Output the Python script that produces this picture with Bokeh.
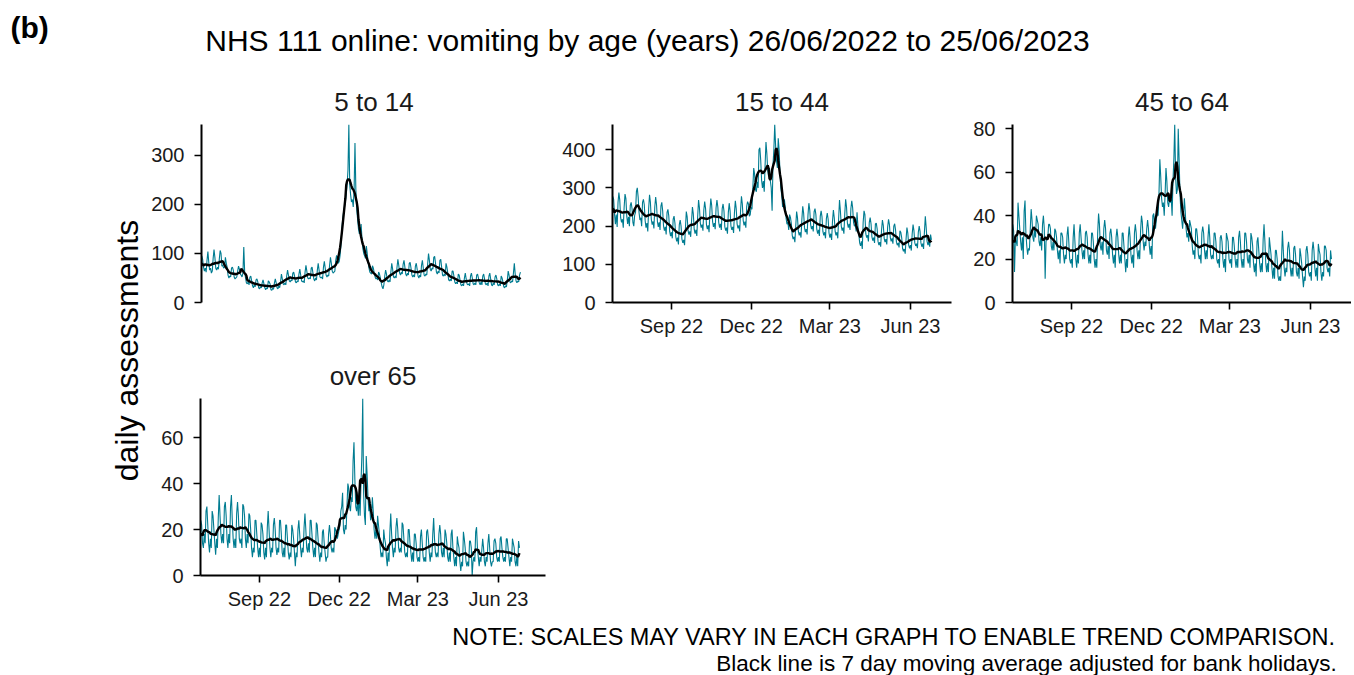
import math
import pandas as pd
from bokeh.plotting import figure
from bokeh.layouts import column, row
from bokeh.models import Range1d, FixedTicker, DatetimeTickFormatter, ColumnDataSource
from bokeh.core.properties import value
from bokeh.embed import file_html
from bokeh.resources import INLINE

# ---------------- data (daily assessments, 26/06/2022 .. 25/06/2023) ----------------
START_DATE = "2022-06-26"
PANEL_TITLES = ["5 to 14", "15 to 44", "45 to 64", "over 65"]
Y_TICKS = [[0, 100, 200, 300], [0, 100, 200, 300, 400], [0, 20, 40, 60, 80], [0, 20, 40, 60]]
X_TICK_DATES = ["2022-09-01", "2022-12-01", "2023-03-01", "2023-06-01"]

age_5_14 = [
    95, 88, 72, 64, 70, 62, 86,
    104, 82, 66, 70, 60, 64, 90,
    108, 92, 70, 66, 72, 68, 88,
    106, 100, 74, 76, 70, 72, 92,
    80, 72, 56, 50, 54, 52, 70,
    72, 66, 52, 48, 50, 52, 64,
    74, 68, 58, 56, 52, 60, 113,
    62, 50, 40, 38, 42, 36, 52,
    54, 44, 34, 30, 36, 32, 46,
    48, 42, 30, 28, 32, 30, 40,
    46, 38, 30, 26, 30, 28, 44,
    42, 38, 26, 25, 29, 27, 40,
    48, 40, 30, 28, 34, 30, 42,
    58, 48, 38, 36, 40, 36, 54,
    66, 56, 44, 42, 46, 44, 60,
    62, 54, 42, 40, 44, 42, 58,
    68, 56, 44, 42, 44, 40, 62,
    76, 64, 50, 48, 50, 48, 70,
    72, 60, 48, 44, 50, 46, 66,
    80, 66, 52, 50, 52, 48, 72,
    84, 70, 56, 52, 56, 54, 76,
    92, 80, 64, 60, 62, 64, 86,
    96, 88, 80, 84, 96, 118, 150,
    170, 185, 195, 205, 220, 240, 270,
    363, 240, 220, 205, 210, 195, 230,
    325, 230, 190, 170, 150, 140, 145,
    160, 130, 110, 100, 95, 90, 115,
    100, 82, 70, 62, 60, 58, 75,
    70, 60, 52, 48, 50, 46, 62,
    58, 50, 40, 32, 28, 36, 54,
    66, 58, 44, 42, 46, 42, 62,
    80, 68, 52, 50, 54, 50, 72,
    88, 76, 60, 56, 62, 58, 78,
    86, 72, 58, 54, 60, 56, 80,
    82, 70, 56, 52, 56, 52, 74,
    80, 68, 54, 50, 56, 52, 76,
    86, 70, 56, 54, 58, 56, 78,
    100, 86, 68, 64, 70, 68, 92,
    94, 80, 62, 58, 64, 60, 86,
    88, 72, 56, 54, 58, 54, 80,
    72, 60, 46, 44, 48, 44, 64,
    64, 54, 42, 38, 42, 38, 58,
    56, 46, 36, 34, 38, 34, 50,
    60, 48, 38, 36, 38, 34, 54,
    60, 50, 38, 36, 40, 36, 56,
    58, 50, 40, 36, 42, 36, 54,
    58, 48, 38, 36, 40, 34, 54,
    60, 48, 36, 34, 40, 36, 52,
    56, 48, 36, 34, 38, 34, 54,
    50, 42, 32, 30, 34, 32, 46,
    64, 56, 42, 40, 44, 42, 60,
    80, 58, 44, 40, 44, 42, 56,
    62,
]

age_15_44 = [
    278, 270, 232, 205, 230, 198, 262,
    288, 268, 222, 210, 218, 196, 250,
    284, 272, 226, 206, 224, 200, 254,
    262, 246, 210, 200, 228, 236, 290,
    300, 276, 236, 216, 222, 200, 262,
    270, 256, 214, 196, 208, 186, 246,
    282, 262, 218, 204, 212, 194, 250,
    276, 256, 212, 198, 210, 190, 252,
    262, 240, 200, 188, 198, 178, 236,
    244, 226, 186, 174, 184, 168, 218,
    226, 208, 172, 160, 170, 152, 204,
    216, 200, 166, 156, 164, 150, 194,
    238, 224, 188, 178, 186, 172, 214,
    250, 232, 192, 180, 190, 174, 226,
    268, 248, 208, 196, 204, 188, 242,
    264, 246, 204, 192, 202, 184, 240,
    272, 254, 212, 198, 208, 192, 248,
    268, 250, 210, 196, 206, 190, 246,
    258, 240, 198, 188, 196, 180, 236,
    260, 240, 200, 190, 198, 182, 236,
    266, 246, 206, 194, 202, 186, 242,
    278, 258, 214, 202, 212, 196, 252,
    264, 258, 226, 230, 250, 244, 300,
    352, 336, 296, 290, 316, 300, 400,
    405, 372, 320, 300, 318, 290, 360,
    420, 390, 345, 330, 352, 318, 300,
    240, 360, 400, 466, 410, 372, 352,
    430, 400, 340, 300, 280, 250, 260,
    270, 250, 220, 205, 210, 190, 230,
    222, 206, 176, 166, 172, 158, 200,
    238, 222, 186, 176, 184, 170, 218,
    252, 234, 196, 184, 192, 178, 230,
    260, 242, 204, 192, 200, 186, 238,
    246, 230, 192, 180, 190, 174, 226,
    240, 224, 186, 176, 184, 168, 220,
    234, 218, 182, 170, 180, 164, 214,
    242, 222, 186, 176, 184, 168, 220,
    268, 240, 200, 188, 196, 180, 232,
    270, 250, 208, 196, 206, 190, 246,
    266, 248, 210, 200, 204, 186, 236,
    200, 180, 156, 148, 160, 140, 210,
    240, 230, 180, 170, 176, 160, 210,
    222, 206, 172, 162, 170, 156, 206,
    208, 192, 160, 150, 158, 146, 190,
    216, 202, 168, 158, 166, 152, 198,
    218, 204, 170, 160, 168, 154, 200,
    206, 190, 158, 150, 156, 144, 188,
    184, 170, 142, 134, 140, 128, 166,
    196, 182, 150, 142, 150, 136, 180,
    204, 188, 156, 148, 154, 142, 184,
    200, 186, 156, 146, 154, 140, 186,
    226, 196, 160, 150, 160, 146, 178,
    164,
]

age_45_64 = [
    36, 33, 14, 30, 28, 26, 46,
    40, 34, 28, 24, 30, 20, 42,
    47, 32, 26, 22, 25, 24, 34,
    43, 38, 30, 28, 34, 30, 40,
    38, 36, 28, 26, 30, 24, 36,
    40, 34, 11, 28, 30, 30, 36,
    36, 34, 26, 24, 28, 24, 34,
    33, 30, 24, 20, 24, 18, 32,
    32, 30, 22, 18, 22, 20, 31,
    35, 28, 20, 18, 20, 16, 30,
    36, 28, 20, 16, 22, 18, 32,
    36, 30, 24, 20, 24, 20, 32,
    33, 30, 22, 18, 22, 18, 32,
    32, 28, 20, 16, 20, 16, 32,
    41, 36, 26, 24, 28, 22, 34,
    38, 34, 24, 22, 26, 20, 32,
    34, 30, 22, 18, 22, 16, 30,
    34, 30, 22, 18, 22, 18, 32,
    32, 26, 20, 14, 20, 16, 30,
    35, 30, 22, 18, 22, 16, 32,
    36, 32, 24, 20, 24, 20, 33,
    40, 37, 28, 24, 28, 26, 34,
    38, 34, 26, 22, 26, 20, 40,
    41, 36, 34, 38, 42, 40, 50,
    66, 58, 48, 44, 46, 40, 50,
    62, 56, 46, 44, 48, 46, 48,
    40, 56, 66, 82, 58, 50, 52,
    80, 66, 50, 42, 38, 34, 40,
    48, 42, 34, 30, 32, 28, 38,
    36, 34, 26, 22, 24, 20, 34,
    34, 30, 22, 20, 22, 18, 32,
    35, 32, 24, 20, 24, 20, 30,
    36, 30, 22, 20, 22, 20, 32,
    32, 28, 20, 18, 20, 16, 30,
    31, 28, 20, 16, 20, 14, 32,
    30, 28, 20, 18, 20, 16, 30,
    30, 26, 20, 16, 20, 16, 30,
    33, 28, 20, 16, 20, 16, 32,
    32, 28, 20, 18, 22, 16, 32,
    30, 26, 18, 14, 18, 12, 28,
    30, 24, 18, 14, 18, 14, 29,
    36, 28, 18, 14, 18, 14, 30,
    26, 22, 16, 11, 16, 11, 24,
    24, 20, 12, 10, 12, 10, 20,
    33, 24, 16, 12, 16, 14, 25,
    28, 24, 16, 12, 16, 12, 25,
    26, 22, 14, 12, 16, 11, 25,
    22, 18, 12, 7, 12, 10, 24,
    26, 22, 14, 12, 14, 10, 24,
    28, 24, 16, 12, 16, 10, 27,
    24, 22, 14, 10, 14, 12, 26,
    26, 24, 16, 14, 16, 12, 24,
    20,
]

age_over_65 = [
    24, 22, 14, 12, 18, 14, 28,
    30, 22, 14, 10, 16, 12, 28,
    26, 20, 14, 9, 16, 12, 25,
    35, 26, 18, 14, 18, 14, 30,
    32, 26, 16, 12, 18, 14, 30,
    35, 24, 16, 12, 16, 12, 27,
    32, 26, 16, 14, 16, 12, 31,
    30, 26, 16, 12, 18, 14, 27,
    26, 20, 12, 8, 12, 10, 24,
    24, 18, 12, 8, 12, 8, 23,
    22, 18, 10, 7, 12, 8, 21,
    28, 20, 12, 8, 12, 10, 22,
    25, 20, 12, 9, 12, 10, 24,
    24, 18, 10, 8, 12, 8, 22,
    22, 16, 10, 7, 10, 8, 22,
    20, 16, 10, 4, 10, 8, 20,
    24, 18, 12, 8, 12, 10, 21,
    27, 20, 12, 10, 14, 10, 24,
    24, 18, 12, 8, 12, 8, 23,
    22, 16, 10, 6, 10, 8, 19,
    20, 14, 10, 6, 8, 8, 18,
    22, 18, 12, 10, 12, 10, 21,
    20, 18, 16, 18, 20, 22, 28,
    30, 36, 20, 18, 22, 20, 30,
    40, 38, 30, 28, 34, 32, 50,
    58, 42, 30, 28, 32, 26, 36,
    26, 40, 52, 77, 36, 26, 22,
    52, 44, 34, 28, 30, 24, 26,
    34, 28, 20, 16, 20, 16, 26,
    22, 18, 12, 8, 10, 8, 20,
    16, 14, 8, 4, 10, 6, 19,
    27, 18, 12, 8, 12, 10, 21,
    25, 20, 12, 10, 12, 10, 23,
    22, 16, 10, 8, 10, 8, 20,
    20, 14, 10, 6, 10, 6, 18,
    18, 14, 8, 6, 8, 6, 17,
    20, 14, 8, 6, 8, 6, 19,
    20, 16, 10, 6, 10, 8, 18,
    25, 16, 10, 8, 10, 8, 18,
    22, 18, 10, 8, 12, 8, 20,
    18, 14, 8, 6, 10, 6, 18,
    20, 12, 8, 4, 8, 4, 17,
    14, 12, 6, 2, 6, 4, 19,
    16, 12, 6, 4, 6, 4, 15,
    15, 12, 0, 6, 8, 6, 19,
    21, 12, 8, 4, 8, 6, 11,
    16, 12, 6, 4, 8, 6, 14,
    18, 12, 6, 4, 6, 6, 15,
    16, 14, 8, 6, 8, 6, 16,
    17, 12, 8, 6, 8, 6, 16,
    16, 12, 8, 4, 8, 6, 16,
    14, 12, 6, 4, 8, 4, 15,
    12,
]

# ---------------- styling ----------------
TEAL = "#007C91"
FONT = "Liberation Sans"
DAY_MS = 86400000.0
DAY_PX = 0.8755  # horizontal pixels per day in every panel


def ms(s):
    return pd.Timestamp(s).value / 1e6


X0 = ms(START_DATE) - 0.3 * DAY_MS


def make_panel(title, daily, yticks, frame_w, frame_h, bl, br, bt, bb, show_x):
    x = pd.date_range(START_DATE, periods=len(daily), freq="D")
    ma = pd.Series(daily, dtype=float).rolling(7, center=True, min_periods=4).mean()
    src = ColumnDataSource(dict(x=x, y=daily, ma=ma.values))
    x1 = X0 + frame_w / DAY_PX * DAY_MS
    p = figure(output_backend="svg", toolbar_location=None, x_axis_type="datetime",
               x_range=Range1d(X0, x1), y_range=Range1d(0, max(daily)),
               frame_width=frame_w, frame_height=frame_h,
               min_border_left=bl, min_border_right=br, min_border_top=bt, min_border_bottom=bb,
               title=title)
    p.line("x", "y", source=src, line_color=TEAL, line_width=1.1)
    p.line("x", "ma", source=src, line_color="black", line_width=2.4)

    p.title.align = "center"
    p.title.text_font = FONT
    p.title.text_font_size = "26px"
    p.title.text_font_style = "normal"
    p.title.text_color = "#1a1a1a"
    p.title.standoff = 15
    p.grid.visible = False
    p.outline_line_color = None
    p.background_fill_color = "white"
    p.border_fill_color = "white"

    for ax in (p.xaxis[0], p.yaxis[0]):
        ax.axis_line_width = 2
        ax.axis_line_color = "black"
        ax.major_tick_line_width = 1.6
        ax.major_tick_line_color = "black"
        ax.major_tick_out = 7
        ax.major_tick_in = 0
        ax.minor_tick_line_color = None
        ax.major_label_text_font = FONT
        ax.major_label_text_font_size = "20px"
        ax.major_label_text_color = "#1a1a1a"
    p.yaxis.ticker = FixedTicker(ticks=yticks)
    p.yaxis.major_label_standoff = 10
    p.xaxis.ticker = FixedTicker(ticks=[ms(d) for d in X_TICK_DATES])
    p.xaxis.formatter = DatetimeTickFormatter(days="%b %y", months="%b %y", years="%b %y")
    p.xaxis.major_label_standoff = 5
    if not show_x:
        p.xaxis.visible = False
    return p


def canvas(px, py, w, h):
    c = figure(output_backend="svg", toolbar_location=None, width=w, height=h,
               x_range=Range1d(px, px + w), y_range=Range1d(-(py + h), -py),
               x_axis_location=None, y_axis_location=None, min_border=0)
    c.grid.visible = False
    c.outline_line_color = None
    c.background_fill_color = "white"
    c.border_fill_color = "white"
    return c


# header: panel label and main title (y values are text centres, page pixels)
top = canvas(0, 0, 1350, 75)
top.text(x=[10], y=[-27], text=["(b)"], text_font=value(FONT), text_font_size=value("30px"),
         text_font_style="bold", text_color="black", text_align="left", text_baseline="middle")
top.text(x=[647], y=[-40], text=["NHS 111 online: vomiting by age (years) 26/06/2022 to 25/06/2023"],
         text_font=value(FONT), text_font_size=value("30px"), text_color="black",
         text_align="center", text_baseline="middle")

# left strip: shared y label
left = canvas(0, 75, 148, 600)
left.text(x=[126], y=[-350], text=["daily assessments"], angle=math.pi / 2,
          text_font=value(FONT), text_font_size=value("32px"), text_color="black",
          text_align="center", text_baseline="middle")

pA = make_panel(PANEL_TITLES[0], age_5_14, Y_TICKS[0], 345, 178, 52, 10, 49, 48, False)
pB = make_panel(PANEL_TITLES[1], age_15_44, Y_TICKS[1], 339, 178, 56, 5, 49, 48, True)
pC = make_panel(PANEL_TITLES[2], age_45_64, Y_TICKS[2], 339, 178, 56, 0, 49, 48, True)
pD = make_panel(PANEL_TITLES[3], age_over_65, Y_TICKS[3], 345, 177, 52, 10, 48, 40, True)

notes = canvas(148, 615, 1202, 60)
notes.text(x=[1346], y=[-636],
           text=["NOTE: SCALES MAY VARY IN EACH GRAPH TO ENABLE TREND COMPARISON."],
           text_font=value(FONT), text_font_size=value("23.5px"), text_color="black",
           text_align="right", text_baseline="middle")
notes.text(x=[1346], y=[-663],
           text=["Black line is 7 day moving average adjusted for bank holidays."],
           text_font=value(FONT), text_font_size=value("22.5px"), text_color="black",
           text_align="right", text_baseline="middle")

layout = column(top, row(left, column(row(pA, pB, pC), pD, notes)))

open("out.html", "w").write(file_html(layout, INLINE))
